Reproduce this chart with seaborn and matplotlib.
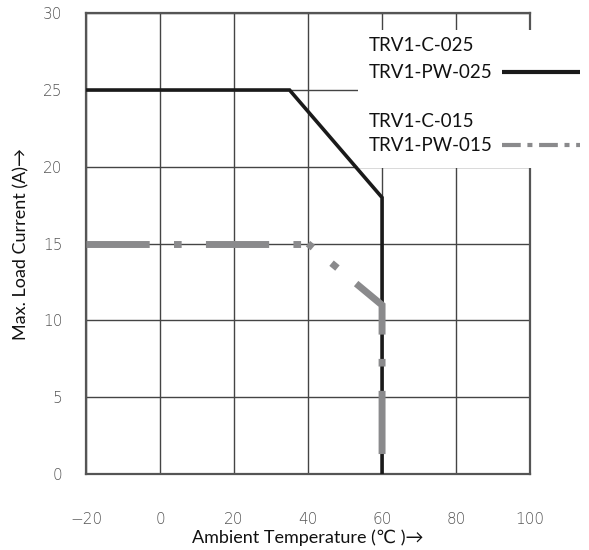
import numpy as np
import pandas as pd
import matplotlib
matplotlib.use('Agg')
import matplotlib.pyplot as plt
import matplotlib.patches as mpatches
import seaborn as sns

# ── Data ──────────────────────────────────────────────────────────────────
temp_025 = [-20, 35, 60, 60]
amp_025 = [25, 25, 18, 0]
temp_015 = [-20, 40, 60, 60]
amp_015 = [15, 15, 11, 0]
label_025 = ["TRV1-C-025", "TRV1-PW-025"]
label_015 = ["TRV1-C-015", "TRV1-PW-015"]
x_ticks = [-20, 0, 20, 40, 60, 80, 100]
y_ticks = [0, 5, 10, 15, 20, 25, 30]

sns.set_style('white')
plt.rcParams['font.family'] = ['Lato', 'DejaVu Sans']

fig = plt.figure(figsize=(5.89, 5.5), dpi=100)
ax = fig.add_axes([0.146, 0.138, 0.754, 0.838])

dark = '#1a1a1a'
gray = '#8a8a8c'
pattern = [9.1, 3.5, 1.1, 3.5]

df25 = pd.DataFrame({'t': temp_025, 'a': amp_025})
df15 = pd.DataFrame({'t': temp_015, 'a': amp_015})
sns.lineplot(data=df25, x='t', y='a', sort=False, estimator=None,
             color=dark, linewidth=2.6, ax=ax, zorder=5)
# the gray curve is drawn in two pieces (flat part, then derating part),
# as the dash pattern restarts at the corner in the original drawing
sns.lineplot(data=df15.iloc[:2], x='t', y='a', sort=False, estimator=None,
             color=gray, linewidth=5, ax=ax, zorder=6)
sns.lineplot(data=df15.iloc[1:], x='t', y='a', sort=False, estimator=None,
             color=gray, linewidth=5, ax=ax, zorder=6)
ax.lines[1].set_linestyle((0, pattern))
ax.lines[2].set_linestyle((8.2, pattern))
for ln in ax.lines[1:3]:
    ln.set_dash_capstyle('butt')
    ln.set_dash_joinstyle('miter')
ax.lines[0].set_solid_joinstyle('miter')

ax.set_xlim(-20, 100)
ax.set_ylim(0, 30)
ax.set_xticks(x_ticks)
ax.set_yticks(y_ticks)
ax.set_xticklabels(['\u221220' if v < 0 else str(v) for v in x_ticks])
ax.grid(True, color='#444444', linewidth=1.0, zorder=1)
ax.set_axisbelow(True)
for s in ax.spines.values():
    s.set_color('#555555')
    s.set_linewidth(1.6)
ax.tick_params(axis='both', length=0, labelsize=11, labelcolor='#555555')
ax.tick_params(axis='x', pad=27)
ax.tick_params(axis='y', pad=17)
for lab in ax.get_xticklabels() + ax.get_yticklabels():
    lab.set_family(['DejaVu Sans'])
    lab.set_fontweight('light')

ax.set_xlabel('Ambient Temperature (\u2103 )\u2192', fontsize=13, color='#111111', labelpad=2)
ax.set_ylabel('Max. Load Current (A)\u2192', fontsize=13, color='#111111', labelpad=10)

# legend area: white box hiding the grid
box = mpatches.Rectangle((0.613, 0.664), 0.6, 0.299, transform=ax.transAxes,
                         facecolor='white', edgecolor='none', clip_on=False, zorder=3)
ax.add_patch(box)
for txt, yy in zip(label_025 + label_015, [0.931, 0.872, 0.766, 0.714]):
    ax.text(0.637, yy, txt, transform=ax.transAxes, fontsize=13.5,
            color='#111111', va='center', ha='left', zorder=7)
ax.plot([0.937, 1.113], [0.872, 0.872], transform=ax.transAxes, color=dark,
        linewidth=3.0, clip_on=False, zorder=7, solid_capstyle='butt')
ax.plot([0.937, 1.113], [0.714, 0.714], transform=ax.transAxes, color=gray,
        linewidth=3.0, clip_on=False, zorder=7, dashes=[4.5, 1.6, 1.2, 1.6],
        dash_capstyle='butt')

fig.savefig('out.png', dpi=100)
